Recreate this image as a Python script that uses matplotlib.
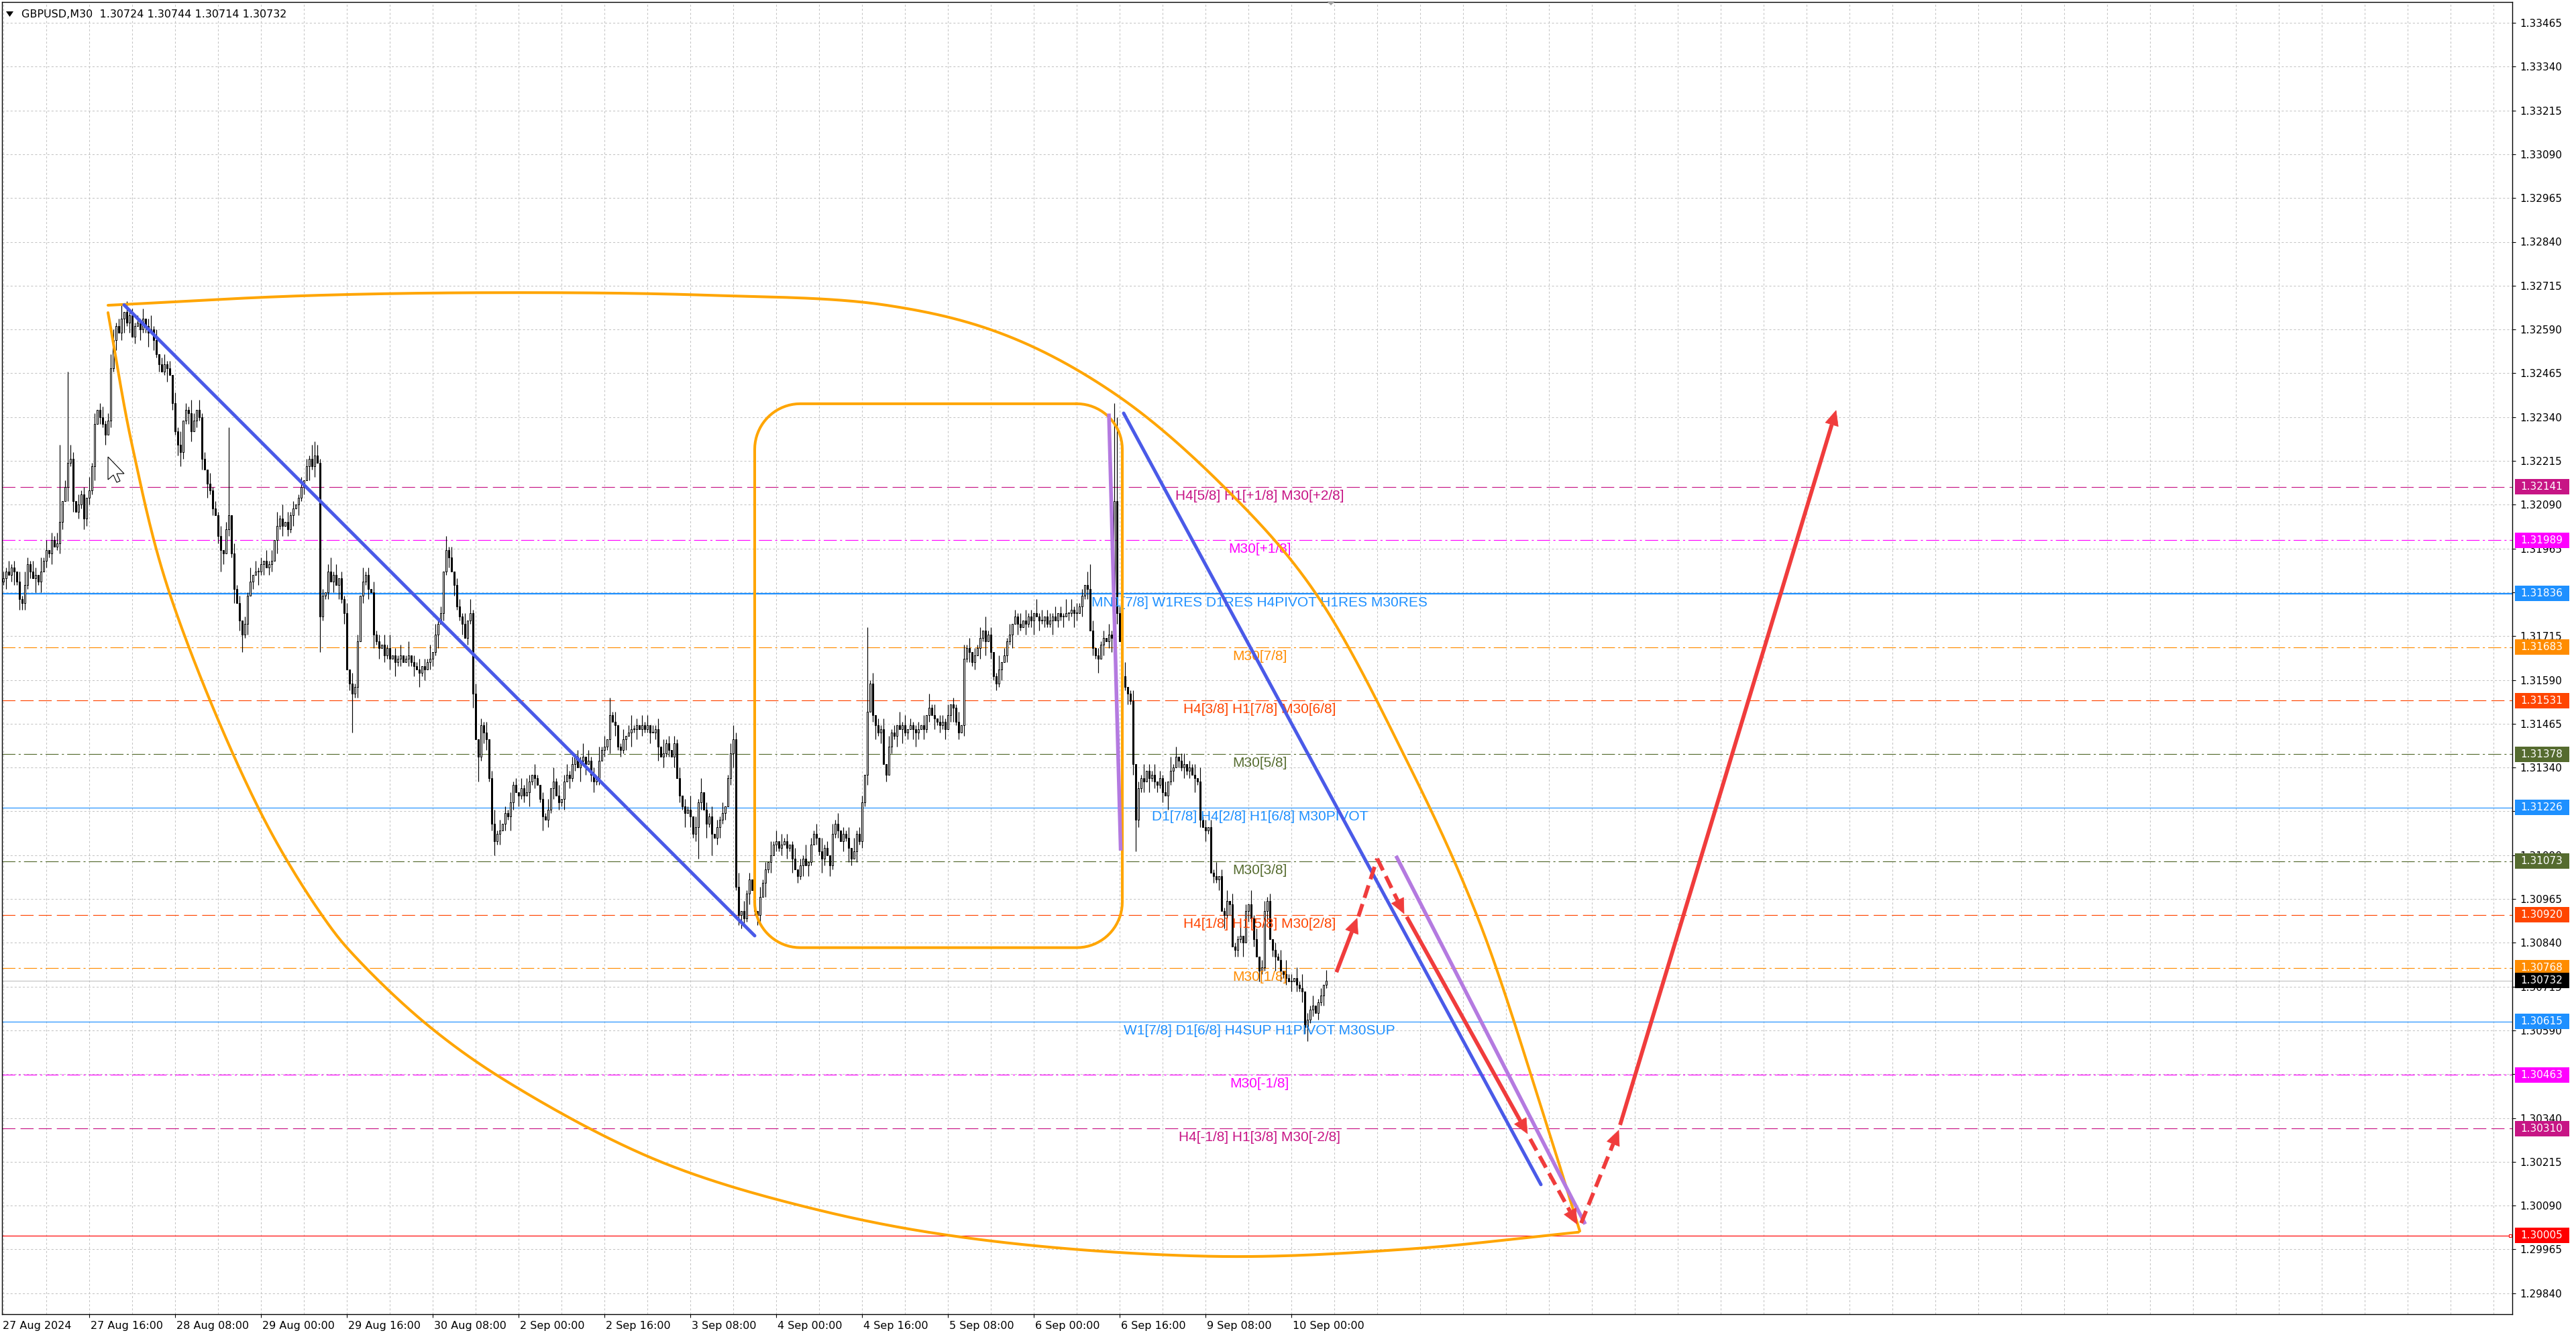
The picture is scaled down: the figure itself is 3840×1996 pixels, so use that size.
import numpy as np
import matplotlib
matplotlib.use("Agg")
import matplotlib.pyplot as plt
from matplotlib.patches import Polygon, Rectangle

plt.rcParams['lines.scale_dashes'] = False
plt.rcParams['font.family'] = ['DejaVu Sans']

# ---- geometry of the MT4 window (full size pixels) ----
FIG_W, FIG_H = 3840, 1996
AX_L, AX_R, AX_T, AX_B = 3, 3745, 3, 1959
BAR_W = 4.0                 # px per M30 bar
PRICE_PX = 52240.0          # px per 1.0 of price
P_REF, Y_REF = 1.33465, 34.0

def xpix(i): return 5.0 + BAR_W * i
def ypix(p): return Y_REF + (P_REF - p) * PRICE_PX
def xdat(x): return (x - 5.0) / BAR_W
def ydat(y): return P_REF - (y - Y_REF) / PRICE_PX

# ---- candles (pips above 1.3000, one value per M30 bar) ----
first_open = 187
closes_pips = [
    188, 190, 189, 191, 190, 187, 182, 181, 186, 192,
    190, 188, 189, 187, 190, 193, 196, 195, 199, 197,
    198, 204, 210, 214, 221, 222, 210, 207, 209, 212,
    205, 211, 213, 220, 232, 236, 234, 232, 229, 233,
    248, 256, 260, 258, 262, 264, 261, 263,
    257, 260, 261, 259, 262, 260, 258, 259, 256, 252,
    249, 247, 249, 248, 246, 238, 230, 226, 224, 233,
    236, 235, 230, 233, 236, 234, 222, 219, 215, 213,
    208, 206, 200, 196, 195, 202, 206, 195, 185, 181,
    176, 172, 175, 183, 187, 189, 190, 190, 192, 193,
    191, 192, 193, 199, 203, 205, 203, 204, 202, 206,
    208, 209, 211, 214, 216, 220, 222, 220, 223, 221,
    177,
    183, 184, 190, 187, 189, 186, 188, 182, 178, 162,
    158, 155, 157, 170, 183, 187, 189, 185, 184, 172,
    170, 168, 169, 166, 168, 165, 166, 164, 165, 166,
    164, 165, 166, 164, 163, 162, 161, 163, 162, 164,
    165, 167, 172, 175, 178, 190, 196, 194, 190,
    186, 180, 177, 175, 171, 176, 178, 155, 142, 137,
    146, 144, 142, 131, 118, 113, 115, 116, 118, 121,
    120, 124, 129, 127, 126, 128, 126, 127, 130, 132,
    131, 129, 125, 120, 119, 122, 128, 130, 126, 124,
    125, 130, 132, 131, 135, 137, 134, 136, 137, 135,
    136, 132, 130, 131, 136, 139, 140, 142, 149, 147,
    146, 140, 139, 142, 143, 144, 145, 145, 146, 145,
    146, 145, 146, 144, 144, 145, 140, 137, 138, 141,
    139, 137, 141, 131, 126, 123, 121, 122, 120, 115,
    117, 124, 127, 122, 118, 120, 115, 114, 117, 119,
    121, 123, 131, 138, 142, 100, 92, 93,
    91, 98, 102, 99, 93, 92, 97, 101, 105, 107,
    109, 112, 113, 111, 112, 113, 111, 112, 108, 105,
    103, 106, 108, 106, 107, 112, 115, 114, 110, 108,
    111, 109, 106, 115, 118, 116, 113, 115, 114, 111,
    108, 110, 115, 113, 124, 132, 150, 158,
    149, 146, 144, 145, 135, 132, 140, 144, 143, 146,
    145, 146, 144, 145, 146, 145, 144, 145, 146, 145,
    149, 151, 149, 148, 147, 146, 147, 145, 149, 152,
    151, 147, 144, 146, 165, 168, 167, 164, 166, 168,
    171, 173, 170, 172, 167, 160, 158, 162, 164, 166,
    170, 172, 175, 177, 175, 174, 176, 175, 177, 176,
    178, 177, 176, 176, 177, 175, 176, 177, 176, 178,
    177, 177, 178, 178, 179, 178, 178, 180, 183, 186,
    185, 173, 168, 166, 165, 169, 171, 170, 172, 171,
    210, 178, 170, 160, 157, 155, 153, 135, 119, 128,
    131, 130, 133, 131, 132, 130, 129, 131, 127, 126,
    130, 133, 134, 137, 136, 134, 135, 133, 134, 132,
    131, 130, 119, 117, 116, 117, 104, 103, 102, 103,
    93, 92, 96, 95, 83, 82, 85, 86, 84, 93,
    95, 91, 85, 80, 76, 77, 93, 96, 85, 82,
    80, 79, 76, 75, 74, 73, 73, 74, 72, 71,
    70, 60, 62, 65, 66, 64, 67, 69, 72, 73.2,
]
# wick lengths in pips, one digit per bar
up_wicks = """2131203142 1320413021 3102142031 2041302312 0312403121
2130241302 3120314021 4203120312 1302403120 2140312031
3021403120 1302140312 0241302130 3120412031 2031402130
1402130214 0312041302 2130413021 3024130213 1203142031
0213041302 3120214031 2041302130 1302412031 3021304120
2130214031 4021302130 1302403120 2031204130 3120130214
0213041203 1302130412 2041302130 3120413021 1203041302
2130213041 3021304120 1402130213 0312041302 2130214031
3120413021 2031302140 1302140213 0213041302 3021304120
2140213031 1302041302 3120213041 2031402130 1203140213"""
lo_wicks = """1302413021 2041302130 1320413021 3021402130 2130241302
0312403120 1402130213 3021304120 2130214031 1302041302
2041302130 3120413021 1203041302 2130213041 3021304120
0213041302 2140213031 1302140213 3120130214 2031204130
1402130213 0312041302 3120214031 2130413021 1302403120
3021403120 2041302312 0241302130 1320413021 2031402130
3102142031 1203142031 2130241302 0213041203 4203120312
1302412031 3120314021 2130214031 0312403121 1402130214
2031302140 3024130213 1302130412 2130413021 3120412031
0213041302 2140312031 1302403120 3021304120 2131203142"""
high_fix = {21: 226, 24: 247, 40: 252, 84: 231, 102: 207, 116: 227, 226: 154,
            272: 146, 322: 174, 405: 192, 414: 238, 415: 234, 417: 209}
low_fix = {7: 179, 31: 203, 66: 220, 81: 190, 89: 167, 118: 167, 130: 144,
           177: 130, 183: 109, 259: 108, 264: 109, 275: 88, 422: 110, 485: 58}

# ---- levels ----
level_prices = [1.32141, 1.31989, 1.31836, 1.31683, 1.31531, 1.31378, 1.31226,
                1.31073, 1.30920, 1.30768, 1.30615, 1.30463, 1.30310, 1.30005]
level_colors = ['#C71585', '#FF00FF', '#1E90FF', '#FF8C00', '#FF4500', '#556B2F', '#1E90FF',
                '#556B2F', '#FF4500', '#FF8C00', '#1E90FF', '#FF00FF', '#C71585', '#FF0000']
level_styles = ['dash', 'dashdot', 'thick', 'dashdot', 'dash', 'dashdot', 'solid',
                'dashdot', 'dash', 'dashdot', 'solid', 'dashdot', 'dash', 'solid']
level_texts = ['H4[5/8] H1[+1/8] M30[+2/8]', 'M30[+1/8]',
               'MN1[7/8] W1RES D1RES H4PIVOT H1RES M30RES', 'M30[7/8]',
               'H4[3/8] H1[7/8] M30[6/8]', 'M30[5/8]', 'D1[7/8] H4[2/8] H1[6/8] M30PIVOT',
               'M30[3/8]', 'H4[1/8] H1[5/8] M30[2/8]', 'M30[1/8]',
               'W1[7/8] D1[6/8] H4SUP H1PIVOT M30SUP', 'M30[-1/8]',
               'H4[-1/8] H1[3/8] M30[-2/8]', '']
label_bar = 468.2
last_price = 1.30732

price_ticks = ['1.29840', '1.29965', '1.30090', '1.30215', '1.30340', '1.30465', '1.30590',
               '1.30715', '1.30840', '1.30965', '1.31090', '1.31215', '1.31340', '1.31465',
               '1.31590', '1.31715', '1.31840', '1.31965', '1.32090', '1.32215', '1.32340',
               '1.32465', '1.32590', '1.32715', '1.32840', '1.32965', '1.33090', '1.33215',
               '1.33340', '1.33465']
time_ticks = [32, 64, 96, 128, 160, 192, 224, 256, 288, 320, 352, 384, 416, 448, 480]
time_labels = ['27 Aug 16:00', '28 Aug 08:00', '29 Aug 00:00', '29 Aug 16:00', '30 Aug 08:00',
               '2 Sep 00:00', '2 Sep 16:00', '3 Sep 08:00', '4 Sep 00:00', '4 Sep 16:00',
               '5 Sep 08:00', '6 Sep 00:00', '6 Sep 16:00', '9 Sep 08:00', '10 Sep 00:00']

# ---- drawn objects (bar index, price) ----
ell_top = [(39.0, 1.32659), (111.25, 1.32686), (182.5, 1.32695), (261.25, 1.32688),
           (329.25, 1.32659), (373.75, 1.32573), (415.25, 1.32401), (455.25, 1.32138),
           (488.25, 1.31846), (523.75, 1.31348), (549.75, 1.30906), (574.25, 1.30343),
           (587.5, 1.30017)]
ell_bottom = [(39.0, 1.32638), (48.0, 1.32259), (62.0, 1.31836), (96.0, 1.31210),
              (121.0, 1.30894), (133.0, 1.30785), (158.75, 1.30601), (188.75, 1.30439),
              (244.0, 1.30218), (305.0, 1.30075), (366.0, 1.29991), (452.0, 1.29945),
              (523.75, 1.29966), (587.0, 1.30014)]
box_bars = (280, 417)
box_prices = (1.30826, 1.32378)
blue_lines = [((45, 1.3266), (280, 1.3086)), ((417.5, 1.32351), (573, 1.3015))]
purple_lines = [((412, 1.3235), (416.4, 1.31103)), ((519, 1.31088), (589.5, 1.30037))]
# (start, end, dashed, head)
red_arrows = [((496.8, 1.30756), (504.5, 1.30910), False, True),
              ((505.0, 1.30915), (512.0, 1.31080), True, False),
              ((512.0, 1.31080), (522.0, 1.30923), True, True),
              ((523.0, 1.30914), (568.0, 1.30295), False, True),
              ((569.0, 1.30280), (586.5, 1.30037), True, True),
              ((588.0, 1.30040), (602.0, 1.30305), True, True),
              ((602.5, 1.30320), (683.0, 1.32359), False, True)]

ORANGE = '#FFA500'
BLUE = '#4a5ae8'
PURPLE = '#b47ae0'
RED = '#f03c3c'


def smooth(points, steps=30):
    # centripetal Catmull-Rom through the object's anchor points (pixel space)
    P = np.array([(xpix(a), ypix(b)) for a, b in points])
    P = np.vstack([2 * P[0] - P[1], P, 2 * P[-1] - P[-2]])
    out = []
    for k in range(1, len(P) - 2):
        p0, p1, p2, p3 = P[k - 1], P[k], P[k + 1], P[k + 2]
        t0 = 0.0
        t1 = t0 + np.hypot(*(p1 - p0)) ** 0.5
        t2 = t1 + np.hypot(*(p2 - p1)) ** 0.5
        t3 = t2 + np.hypot(*(p3 - p2)) ** 0.5
        for t in np.linspace(t1, t2, steps, endpoint=False):
            a1 = (t1 - t) / (t1 - t0) * p0 + (t - t0) / (t1 - t0) * p1
            a2 = (t2 - t) / (t2 - t1) * p1 + (t - t1) / (t2 - t1) * p2
            a3 = (t3 - t) / (t3 - t2) * p2 + (t - t2) / (t3 - t2) * p3
            b1 = (t2 - t) / (t2 - t0) * a1 + (t - t0) / (t2 - t0) * a2
            b2 = (t3 - t) / (t3 - t1) * a2 + (t - t1) / (t3 - t1) * a3
            out.append((t2 - t) / (t2 - t1) * b1 + (t - t1) / (t2 - t1) * b2)
    out.append(P[-2])
    out = np.array(out)
    return xdat(out[:, 0]), ydat(out[:, 1])


def arrow(ax, start, end, color, lw, dashed, head):
    sx, sy = xpix(start[0]), ypix(start[1])
    ex, ey = xpix(end[0]), ypix(end[1])
    d = np.array([ex - sx, ey - sy])
    d = d / np.hypot(*d)
    shaft_end = np.array([ex, ey])
    if head:
        shaft_end = shaft_end - d * 22
        nrm = np.array([-d[1], d[0]])
        tri = [(ex, ey), shaft_end + nrm * 10, shaft_end - nrm * 10]
        ax.add_patch(Polygon([(xdat(x), ydat(y)) for x, y in tri], closed=True,
                             fc=color, ec=color, lw=0.5, zorder=7))
    ls = (0, (14, 7)) if dashed else '-'
    ax.plot([xdat(sx), xdat(shaft_end[0])], [ydat(sy), ydat(shaft_end[1])],
            color=color, lw=lw, ls=ls, solid_capstyle='butt', dash_capstyle='butt', zorder=7)


fig = plt.figure(figsize=(FIG_W / 100, FIG_H / 100), dpi=100)
ax = fig.add_axes([AX_L / FIG_W, 1 - AX_B / FIG_H, (AX_R - AX_L) / FIG_W, (AX_B - AX_T) / FIG_H])
ax.set_xlim(xdat(AX_L), xdat(AX_R))
ax.set_ylim(ydat(AX_B), ydat(AX_T))

# grid
tick_vals = [float(s) for s in price_ticks]
for v in tick_vals:
    ax.axhline(v, color='#c4c4c4', lw=0.75, ls=(0, (2.2, 2.2)), zorder=0.5)
for k in range(0, 60):
    if 16 * k < xdat(AX_R):
        ax.axvline(16 * k, color='#c4c4c4', lw=0.75, ls=(0, (2.2, 2.2)), zorder=0.5)

# levels
styles = {'dash': (0, (14, 5.5)), 'dashdot': (0, (14, 3.5, 2.2, 3.5)), 'solid': '-', 'thick': '-'}
for p, col, st, txt in zip(level_prices, level_colors, level_styles, level_texts):
    ax.axhline(p, color=col, lw=1.6 if st == 'thick' else 0.85, ls=styles[st], zorder=1)
    if txt:
        ax.text(label_bar, p - 4 / PRICE_PX, txt, ha='center', va='top', fontsize=15,
                family='Liberation Sans', color=col, zorder=4)
ax.axhline(last_price, color='#c0c0c0', lw=0.8, zorder=1)
ax.plot([xdat(AX_R - 3)], [1.30005], marker='s', ms=3.2, mfc='white', mec='#FF0000', mew=0.8,
        clip_on=False, zorder=5)

# candles
n = len(closes_pips)
c = 1.3 + np.array(closes_pips, dtype=float) / 1e4
o = np.r_[1.3 + first_open / 1e4, c[:-1]]
up = np.array([int(ch) for ch in ''.join(up_wicks.split())][:n]) / 1e4
lo = np.array([int(ch) for ch in ''.join(lo_wicks.split())][:n]) / 1e4
hi = np.maximum(o, c) + up
lw_ = np.minimum(o, c) - lo
for i, v in high_fix.items():
    hi[i] = 1.3 + v / 1e4
for i, v in low_fix.items():
    lw_[i] = 1.3 + v / 1e4
idx = np.arange(n)
ax.vlines(idx, lw_, hi, color='black', lw=0.85, zorder=2)
body = np.maximum(np.abs(c - o), 1.0 / PRICE_PX)
bottom = np.minimum(o, c)
bull = c >= o
ax.bar(idx[bull], body[bull], bottom=bottom[bull], width=0.7, color='white',
       edgecolor='black', linewidth=0.75, zorder=3)
ax.bar(idx[~bull], body[~bull], bottom=bottom[~bull], width=0.7, color='black',
       edgecolor='black', linewidth=0.75, zorder=3)

# orange objects
for pts in (ell_top, ell_bottom):
    xs, ys = smooth(pts)
    ax.plot(xs, ys, color=ORANGE, lw=2.9, solid_capstyle='round', zorder=5)
x0, x1 = xpix(box_bars[0]), xpix(box_bars[1])
y0, y1 = ypix(box_prices[1]), ypix(box_prices[0])
r = 68
ang = np.linspace(0, np.pi / 2, 20)
path = []
for cx, cy, a0 in [(x1 - r, y0 + r, -np.pi / 2), (x1 - r, y1 - r, 0),
                   (x0 + r, y1 - r, np.pi / 2), (x0 + r, y0 + r, np.pi)]:
    for a in a0 + ang:
        path.append((cx + r * np.cos(a), cy + r * np.sin(a)))
path.append(path[0])
path = np.array(path)
ax.plot(xdat(path[:, 0]), ydat(path[:, 1]), color=ORANGE, lw=2.9, zorder=5)

for (a, b) in blue_lines:
    ax.plot([a[0], b[0]], [a[1], b[1]], color=BLUE, lw=3.6, solid_capstyle='round', zorder=6)
for (a, b) in purple_lines:
    ax.plot([a[0], b[0]], [a[1], b[1]], color=PURPLE, lw=4.0, solid_capstyle='butt', zorder=6)
for s, e, dashed, head in red_arrows:
    arrow(ax, s, e, RED, 4.2, dashed, head)

# mouse cursor
tip = (161, 681)
cur = [(0, 0), (0, 34), (8, 27), (13, 38), (18, 36), (13, 25), (24, 25)]
ax.add_patch(Polygon([(xdat(tip[0] + dx), ydat(tip[1] + dy)) for dx, dy in cur], closed=True,
                     fc='white', ec='black', lw=0.8, zorder=8))

# axes look
for sp in ax.spines.values():
    sp.set_color('black')
    sp.set_linewidth(1.0)
ax.set_yticks(tick_vals)
ax.set_yticklabels(price_ticks)
ax.yaxis.tick_right()
ax.tick_params(axis='y', length=3.5, width=0.8, pad=4.5, labelsize=11, colors='black')
ax.set_xticks(time_ticks)
ax.set_xticklabels([])
ax.tick_params(axis='x', length=3.5, width=0.8)

# time labels
fig.text(4 / FIG_W, 1 - 1976 / FIG_H, '27 Aug 2024', ha='left', va='center', fontsize=11.5)
for t, s in zip(time_ticks, time_labels):
    fig.text((xpix(t) + 2) / FIG_W, 1 - 1976 / FIG_H, s, ha='left', va='center', fontsize=11.5)

# price boxes on the right scale
for p, col in zip(level_prices + [last_price], level_colors + ['black']):
    yc = ypix(p)
    fig.patches.append(Rectangle((3749 / FIG_W, 1 - (yc + 11.5) / FIG_H), 81 / FIG_W, 23 / FIG_H,
                                 transform=fig.transFigure, fc=col, ec='none', zorder=10))
    fig.text(3757 / FIG_W, 1 - yc / FIG_H, '%.5f' % p, ha='left', va='center', fontsize=11,
             color='white', zorder=11)

# header
fig.patches.append(Polygon([(9 / FIG_W, 1 - 17 / FIG_H), (20 / FIG_W, 1 - 17 / FIG_H),
                            (14.5 / FIG_W, 1 - 25 / FIG_H)], closed=True,
                           transform=fig.transFigure, fc='black', ec='none'))
fig.text(32 / FIG_W, 1 - 21 / FIG_H, 'GBPUSD,M30  1.30724 1.30744 1.30714 1.30732',
         ha='left', va='center', fontsize=11.5, color='black')
fig.patches.append(Polygon([(1978 / FIG_W, 1 - 2 / FIG_H), (1990 / FIG_W, 1 - 2 / FIG_H),
                            (1984 / FIG_W, 1 - 8 / FIG_H)], closed=True,
                           transform=fig.transFigure, fc='#a0a0a0', ec='none'))

fig.savefig('out.png', dpi=100, facecolor='white')
